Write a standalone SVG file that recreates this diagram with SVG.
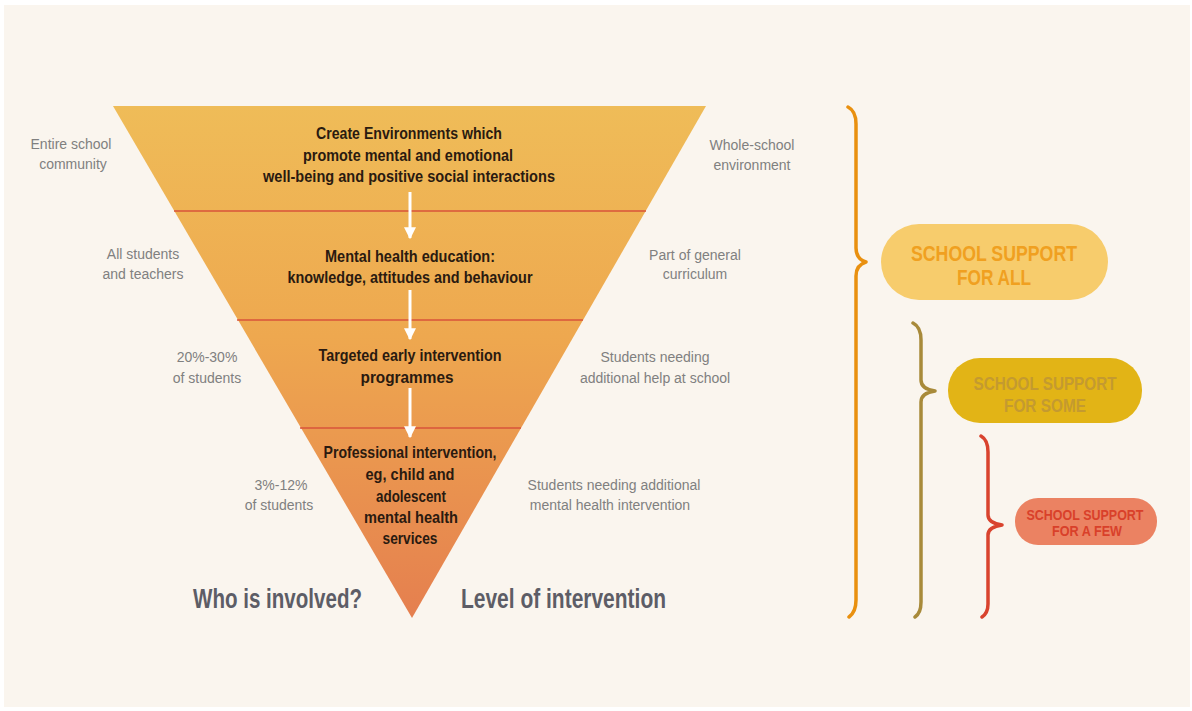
<svg xmlns="http://www.w3.org/2000/svg" width="1192" height="711" viewBox="0 0 1192 711">
<style>
.t{font-family:"Liberation Sans",Arial,sans-serif;font-weight:bold;fill:#2a1a10;font-size:16.5px;text-anchor:middle}
.g{font-family:"Liberation Sans",Arial,sans-serif;fill:#808080;font-size:14px;text-anchor:middle}
.b{font-family:"Liberation Sans",Arial,sans-serif;font-weight:bold;fill:#5d5d66;font-size:27px}
.p{font-family:"Liberation Sans",Arial,sans-serif;font-weight:bold;text-anchor:middle}
.div{stroke:#d8533a;stroke-width:1.5}
.arr{stroke:#ffffff;stroke-width:3;fill:none}
.br{fill:none;stroke-width:3.5;stroke-linecap:round;stroke-linejoin:round}
</style>
<defs>
<linearGradient id="tri" x1="0" y1="106" x2="0" y2="618" gradientUnits="userSpaceOnUse">
<stop offset="0" stop-color="#efbc58"/>
<stop offset="0.45" stop-color="#eea84f"/>
<stop offset="1" stop-color="#e57f4f"/>
</linearGradient>
<marker id="ah" viewBox="0 0 10 10" refX="9" refY="5" markerWidth="4" markerHeight="4" orient="auto" markerUnits="strokeWidth">
<path d="M0,0 L10,5 L0,10 z" fill="#ffffff"/>
</marker>
</defs>
<rect x="0" y="0" width="1192" height="711" fill="#ffffff"/>
<rect x="4" y="5" width="1186" height="702" fill="#faf5ee"/>

<g id="pyramid">
<polygon points="113,106 706,106 412,618" fill="url(#tri)"/>
<line class="div" x1="174" y1="211" x2="646" y2="211"/>
<line class="div" x1="237" y1="320" x2="583" y2="320"/>
<line class="div" x1="300" y1="428" x2="521" y2="428"/>
</g>

<g id="connectors">
<line class="arr" x1="410" y1="192" x2="410" y2="238" marker-end="url(#ah)"/>
<line class="arr" x1="410" y1="290" x2="410" y2="339" marker-end="url(#ah)"/>
<line class="arr" x1="410" y1="388" x2="410" y2="437" marker-end="url(#ah)"/>
</g>

<g id="level1">
<text class="t" x="409" y="139" textLength="186" lengthAdjust="spacingAndGlyphs">Create Environments which</text>
<text class="t" x="408" y="161" textLength="210" lengthAdjust="spacingAndGlyphs">promote mental and emotional</text>
<text class="t" x="409" y="182" textLength="292" lengthAdjust="spacingAndGlyphs">well-being and positive social interactions</text>
</g>
<g id="level2">
<text class="t" x="410" y="262" textLength="170" lengthAdjust="spacingAndGlyphs">Mental health education:</text>
<text class="t" x="410" y="283" textLength="245" lengthAdjust="spacingAndGlyphs">knowledge, attitudes and behaviour</text>
</g>
<g id="level3">
<text class="t" x="410" y="361" textLength="183" lengthAdjust="spacingAndGlyphs">Targeted early intervention</text>
<text class="t" x="407" y="383" textLength="93" lengthAdjust="spacingAndGlyphs">programmes</text>
</g>
<g id="level4">
<text class="t" x="410" y="458" textLength="173" lengthAdjust="spacingAndGlyphs">Professional intervention,</text>
<text class="t" x="410" y="480" textLength="89" lengthAdjust="spacingAndGlyphs">eg, child and</text>
<text class="t" x="411" y="502" textLength="70" lengthAdjust="spacingAndGlyphs">adolescent</text>
<text class="t" x="411" y="523" textLength="94" lengthAdjust="spacingAndGlyphs">mental health</text>
<text class="t" x="410" y="544" textLength="55" lengthAdjust="spacingAndGlyphs">services</text>
</g>

<g id="left-labels">
<text class="g" x="71" y="149">Entire school</text>
<text class="g" x="73" y="169">community</text>
<text class="g" x="143" y="259">All students</text>
<text class="g" x="143" y="279">and teachers</text>
<text class="g" x="207" y="362">20%-30%</text>
<text class="g" x="207" y="383">of students</text>
<text class="g" x="281" y="490">3%-12%</text>
<text class="g" x="279" y="510">of students</text>
</g>
<g id="right-labels">
<text class="g" x="752" y="150">Whole-school</text>
<text class="g" x="752" y="170">environment</text>
<text class="g" x="695" y="260">Part of general</text>
<text class="g" x="695" y="279">curriculum</text>
<text class="g" x="655" y="362">Students needing</text>
<text class="g" x="655" y="383">additional help at school</text>
<text class="g" x="614" y="490">Students needing additional</text>
<text class="g" x="610" y="510">mental health intervention</text>
</g>

<g id="axis-labels">
<text class="b" x="193" y="608" textLength="169" lengthAdjust="spacingAndGlyphs">Who is involved?</text>
<text class="b" x="461" y="608" textLength="205" lengthAdjust="spacingAndGlyphs">Level of intervention</text>
</g>

<g id="braces">
<path class="br" stroke="#e9900f" d="M848,107 Q856,111 856,124 L856,248 Q856,259 866,262 Q856,265 856,276 L856,600 Q856,612 849,617"/>
<path class="br" stroke="#a88a3a" d="M913,323 Q921,327 921,340 L921,380 Q921,389 935,391 Q921,393 921,402 L921,602 Q921,613 915,617"/>
<path class="br" stroke="#d9432e" d="M981,436 Q988,440 988,452 L988,515 Q988,523 1002,525 Q988,527 988,535 L988,604 Q988,613 982,617"/>
</g>

<g id="support-all">
<rect x="881" y="224" width="227" height="76" rx="38" fill="#f7cc6c"/>
<text class="p" x="994" y="261" font-size="22" fill="#f0a020" textLength="166" lengthAdjust="spacingAndGlyphs">SCHOOL SUPPORT</text>
<text class="p" x="994" y="285" font-size="22" fill="#f0a020" textLength="74" lengthAdjust="spacingAndGlyphs">FOR ALL</text>
</g>
<g id="support-some">
<rect x="948" y="358" width="194" height="65" rx="32" fill="#e2b416"/>
<text class="p" x="1045" y="390" font-size="17.5" fill="#c49a30" textLength="143" lengthAdjust="spacingAndGlyphs">SCHOOL SUPPORT</text>
<text class="p" x="1045" y="412" font-size="17.5" fill="#c49a30" textLength="82" lengthAdjust="spacingAndGlyphs">FOR SOME</text>
</g>
<g id="support-few">
<rect x="1015" y="498" width="142" height="47" rx="23" fill="#eb8262"/>
<text class="p" x="1085" y="520" font-size="15" fill="#d9402a" textLength="117" lengthAdjust="spacingAndGlyphs">SCHOOL SUPPORT</text>
<text class="p" x="1087" y="536" font-size="15" fill="#d9402a" textLength="70" lengthAdjust="spacingAndGlyphs">FOR A FEW</text>
</g>
</svg>
